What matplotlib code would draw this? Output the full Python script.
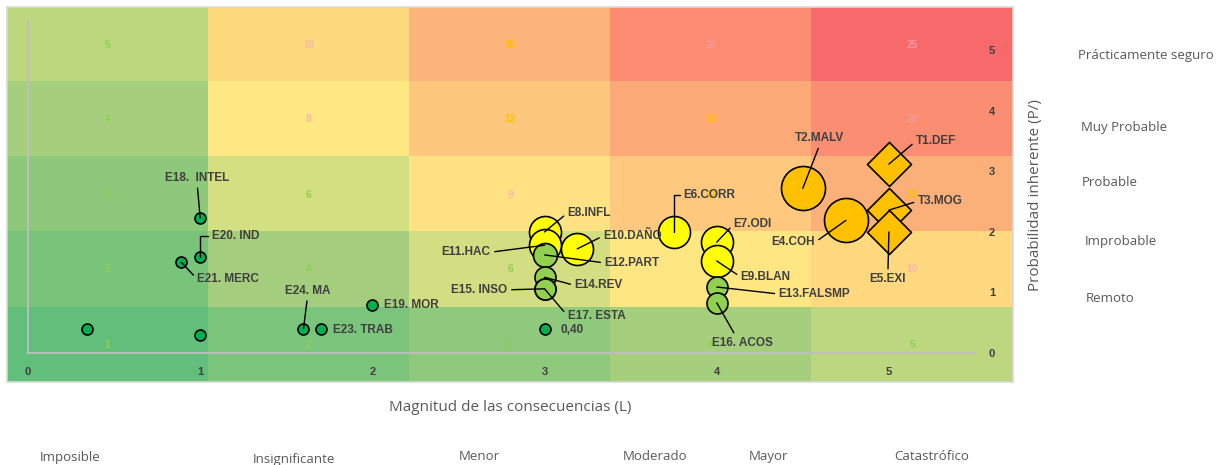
import numpy as np
import matplotlib
matplotlib.use('Agg')
import matplotlib.pyplot as plt
from matplotlib.colors import to_rgb

# risk matrix background: rows from top (P=5) to bottom (P=1), cols L=1..5
cell_colors = [
    ['#BDD77F', '#FED97E', '#FBB47A', '#FB8C72', '#F8696B'],
    ['#A5CF7C', '#FEE883', '#FDC87E', '#FBAA77', '#FA8D72'],
    ['#8EC97B', '#D3DF81', '#FFE283', '#FEC97E', '#FBB079'],
    ['#78C47A', '#A4CE7D', '#D2DE81', '#FEE683', '#FFD880'],
    ['#62BE7B', '#7AC47B', '#8FC97C', '#A5CF7D', '#BDD780'],
]
cell_scores = [
    [5, 10, 15, 20, 25],
    [4, 8, 12, 16, 20],
    [3, 6, 9, 12, 15],
    [2, 4, 6, 8, 10],
    [1, 2, 3, 4, 5],
]

# risks (L, P)
small_names = ['E18.  INTEL', 'E20. IND', 'E21. MERC', '', '', 'E24. MA', 'E23. TRAB', 'E19. MOR', '0,40']
small_x = [1.0, 1.0, 0.89, 0.34, 1.0, 1.6, 1.7, 2.0, 3.0]
small_y = [2.23, 1.58, 1.5, 0.4, 0.3, 0.4, 0.4, 0.8, 0.4]

yellow_names = ['E8.INFL', 'E11.HAC', 'E10.DAÑO', 'E6.CORR', 'E7.ODI', 'E9.BLAN']
yellow_x = [3.0, 3.0, 3.19, 3.75, 4.0, 4.0]
yellow_y = [2.0, 1.78, 1.72, 2.0, 1.83, 1.52]

green_names = ['E12.PART', 'E14.REV', 'E15. INSO', 'E17. ESTA', 'E13.FALSMP', 'E16. ACOS']
green_x = [3.0, 3.0, 3.0, 3.0, 4.0, 4.0]
green_y = [1.62, 1.25, 1.06, 1.06, 1.09, 0.83]

orange_names = ['T2.MALV', 'E4.COH']
orange_x = [4.5, 4.75]
orange_y = [2.72, 2.19]

diamond_names = ['T3.MOG', 'T1.DEF', 'E5.EXI']
diamond_x = [5.0, 5.0, 5.0]
diamond_y = [2.36, 3.12, 2.0]

x_ticks = [0, 1, 2, 3, 4, 5]
y_ticks = [0, 1, 2, 3, 4, 5]
p_levels = ['Prácticamente seguro', 'Muy Probable', 'Probable', 'Improbable', 'Remoto']
l_levels = ['Imposible', 'Insignificante', 'Menor', 'Moderado', 'Mayor', 'Catastrófico']

# label placement: offset in pixels (right, up), ha, relpos of leader line, connection
label_pos = {
    'E18.  INTEL': (-3, 40, 'center', (0.5, 0), None),
    'E20. IND': (12, 21, 'left', (0, 0.5), 'angle,angleA=0,angleB=90,rad=0'),
    'E21. MERC': (16, -17, 'left', (0, 0.5), None),
    'E24. MA': (4, 38, 'center', (0.5, 0), None),
    'E23. TRAB': (12, -1, 'left', None, None),
    'E19. MOR': (12, 0, 'left', None, None),
    '0,40': (16, -1, 'left', None, None),
    'E8.INFL': (23, 19, 'left', (0, 0.5), None),
    'E11.HAC': (-54, -7, 'right', (1, 0.5), None),
    'E10.DAÑO': (26, 13, 'left', (0, 0.5), None),
    'E6.CORR': (10, 37, 'left', (0, 0.5), 'angle,angleA=0,angleB=90,rad=0'),
    'E7.ODI': (17, 18, 'left', (0, 0.5), None),
    'E9.BLAN': (24, -16, 'left', (0, 0.5), None),
    'E12.PART': (60, -8, 'left', (0, 0.5), None),
    'E14.REV': (30, -8, 'left', (0, 0.5), None),
    'E15. INSO': (-37, -1, 'right', (1, 0.5), None),
    'E17. ESTA': (23, -27, 'left', (0, 0.5), None),
    'E13.FALSMP': (62, -7, 'left', (0, 0.5), None),
    'E16. ACOS': (-5, -40, 'left', (0.4, 1), None),
    'T2.MALV': (17, 50, 'center', (0.5, 0), None),
    'E4.COH': (-31, -22, 'right', (1, 0.5), None),
    'T3.MOG': (29, 9, 'left', (0, 0.5), None),
    'T1.DEF': (27, 23, 'left', (0, 0.5), None),
    'E5.EXI': (-1, -47, 'center', (0.5, 1), None),
}

W, H = 1223, 465
fig = plt.figure(figsize=(W / 100, H / 100), dpi=100)

def fx(px):
    return px / W

def fy(py):
    return 1 - py / H

# background matrix
bg = fig.add_axes([fx(7), fy(382), fx(1013) - fx(7), fy(7) - fy(382)])
rgb = np.array([[to_rgb(c) for c in row] for row in cell_colors])
bg.imshow(rgb, extent=(0, 5, 0, 5), aspect='auto', interpolation='nearest')
bg.set_xlim(0, 5)
bg.set_ylim(0, 5)
bg.set_xticks([])
bg.set_yticks([])
for s in bg.spines.values():
    s.set_color('#D9D9D9')
    s.set_linewidth(1.2)

for i, row in enumerate(cell_scores):
    for j, score in enumerate(row):
        if score <= 6:
            c = '#8FD14F'
        elif score <= 10:
            c = '#F9B8A8'
        elif score <= 16:
            c = '#FFC000'
        else:
            c = '#F7989B'
        bg.text(j + 0.5, 4.5 - i, str(score), ha='center', va='center',
                fontsize=7.5, fontweight='bold', color=c, family='Liberation Sans')

# scatter axes on top
ax = fig.add_axes([fx(28), fy(353), fx(975) - fx(28), fy(20) - fy(353)])
ax.patch.set_visible(False)
ax.set_xlim(0, 5.5)
ax.set_ylim(0, 5.5)
for side in ['top', 'right']:
    ax.spines[side].set_visible(False)
for side in ['left', 'bottom']:
    ax.spines[side].set_color('#BFBFBF')
    ax.spines[side].set_linewidth(1.3)
ax.yaxis.tick_right()
ax.set_xticks(x_ticks)
ax.set_yticks(y_ticks)
ax.tick_params(axis='x', length=0, pad=10, labelsize=8, labelcolor='#404040')
ax.tick_params(axis='y', length=0, pad=10, labelsize=8, labelcolor='#404040')
for lab in ax.get_xticklabels() + ax.get_yticklabels():
    lab.set_fontweight('bold')
    lab.set_family('Liberation Sans')

k = 0.72  # px -> points
ax.scatter(small_x, small_y, s=(11 * k) ** 2, c='#00B050', edgecolors='black', linewidths=1.2, zorder=3)
ax.scatter(orange_x, orange_y, s=(44 * k) ** 2, c='#FFC000', edgecolors='black', linewidths=1.2, zorder=3)
ax.scatter(yellow_x[:2], yellow_y[:2], s=(32 * k) ** 2, c='#FFFF00', edgecolors='black', linewidths=1.2, zorder=3)
ax.scatter(green_x[:1], green_y[:1], s=(24 * k) ** 2, c='#92D050', edgecolors='black', linewidths=1.2, zorder=3)
ax.scatter(yellow_x[2:], yellow_y[2:], s=(32 * k) ** 2, c='#FFFF00', edgecolors='black', linewidths=1.2, zorder=3)
ax.scatter(green_x[1:], green_y[1:], s=(21 * k) ** 2, c='#92D050', edgecolors='black', linewidths=1.2, zorder=3)
ax.scatter(diamond_x, diamond_y, s=(44 * k / 1.414) ** 2, marker='D', c='#FFC000',
           edgecolors='black', linewidths=1.2, zorder=3)

all_names = small_names + yellow_names + green_names + orange_names + diamond_names
all_x = small_x + yellow_x + green_x + orange_x + diamond_x
all_y = small_y + yellow_y + green_y + orange_y + diamond_y
for name, x, y in zip(all_names, all_x, all_y):
    if not name:
        continue
    dx, dy, ha, rel, conn = label_pos[name]
    arrow = None
    if rel is not None:
        arrow = dict(arrowstyle='-', color='black', lw=1, shrinkA=1, shrinkB=0, relpos=rel)
        if conn:
            arrow['connectionstyle'] = conn
    ax.annotate(name, xy=(x, y), xytext=(dx * k, dy * k), textcoords='offset points',
                ha=ha, va='center', fontsize=8.5, fontweight='bold', color='#3F3F3F',
                family='Liberation Sans', arrowprops=arrow, zorder=5, annotation_clip=False)

# outer axis titles and level names
fig.text(fx(510), fy(407), 'Magnitud de las consecuencias (L)', ha='center', va='center',
         fontsize=11, color='#595959', family='Open Sans')
fig.text(fx(1035), fy(195), 'Probabilidad inherente (P/)', ha='center', va='center',
         rotation=90, fontsize=11, color='#595959', family='Open Sans')

p_pos = [(1078, 55), (1081, 127), (1082, 182), (1085, 242), (1086, 298)]
for t, (px, py) in zip(p_levels, p_pos):
    fig.text(fx(px), fy(py), t, ha='left', va='center', fontsize=9.5, color='#595959', family='Open Sans')

l_pos = [(40, 457), (253, 459), (459, 456), (623, 456), (749, 456), (894, 456)]
for t, (px, py) in zip(l_levels, l_pos):
    fig.text(fx(px), fy(py), t, ha='left', va='center', fontsize=9.5, color='#595959', family='Open Sans')

plt.savefig('out.png', dpi=100)
